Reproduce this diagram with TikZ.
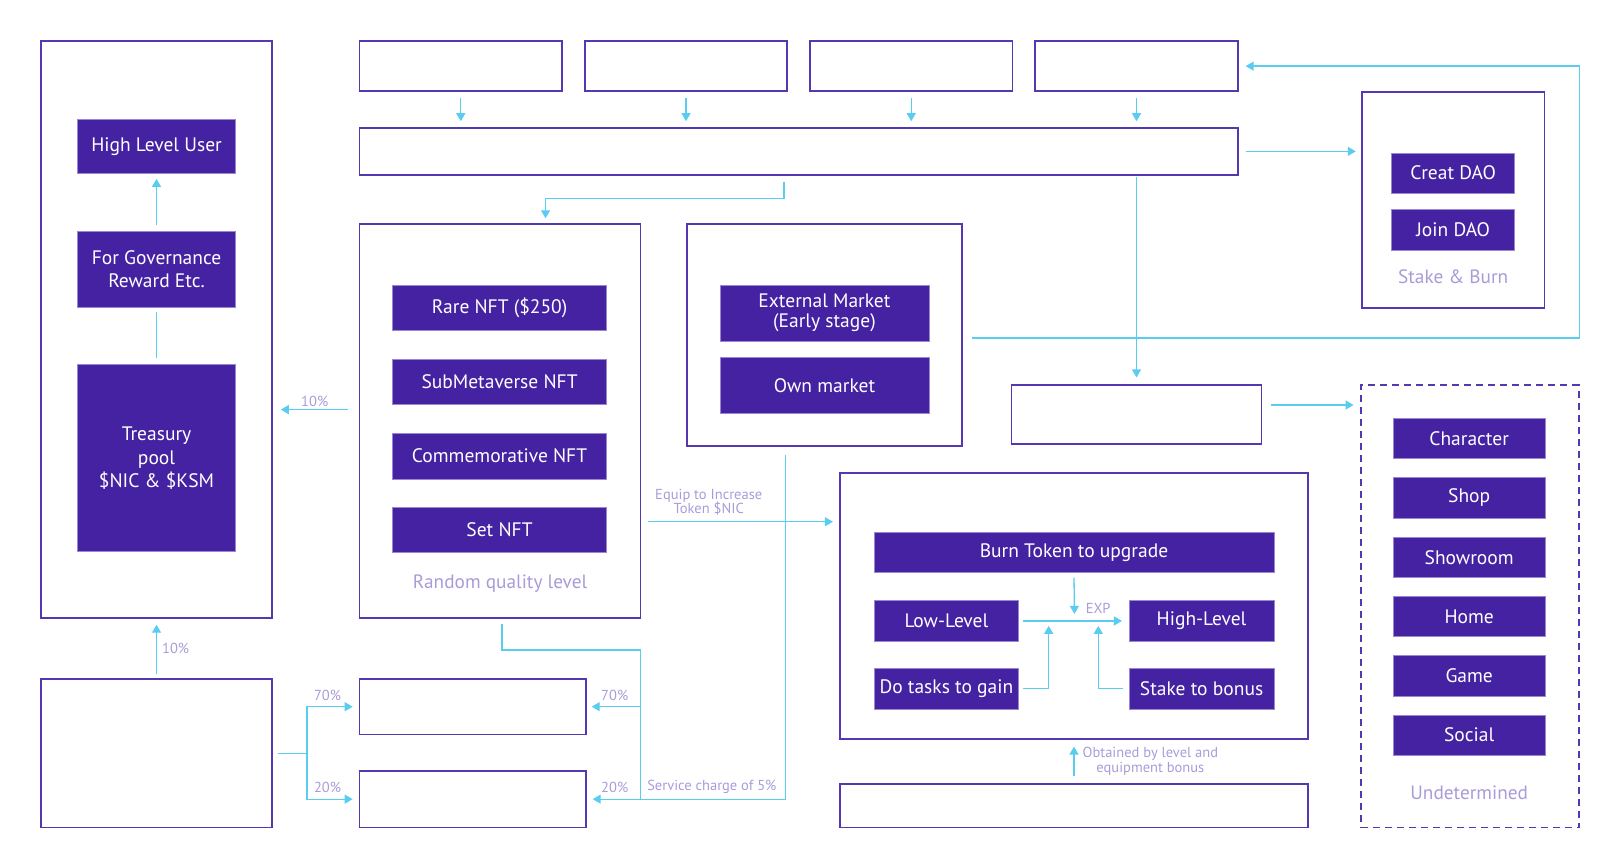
\documentclass[tikz,border=0pt]{standalone}
\usepackage{fontspec}
\setmainfont{PT Sans}
\usepackage{tikz}
\usetikzlibrary{arrows.meta}
\definecolor{boxline}{HTML}{5537B0}
\definecolor{boxfill}{HTML}{4522A2}
\definecolor{flowline}{HTML}{58CDF0}
\definecolor{notetext}{HTML}{A99BD9}

\begin{document}
\begin{tikzpicture}[x=1.0332pt, y=-1.0332pt,
    wh/.style 2 args={minimum width={1.0332*#1pt}, minimum height={1.0332*#2pt}},
    frame/.style={draw=boxline, line width=1.8pt, inner sep=0pt},
    item/.style={fill=boxfill, draw=boxline!60, line width=0.6pt, text=white, inner sep=0pt,
        align=center, font=\fontsize{19.5}{23.5}\selectfont},
    note/.style={text=notetext, inner sep=1pt, align=center, font=\fontsize{14.5}{14.5}\selectfont},
    caption/.style={text=notetext, inner sep=0pt, font=\fontsize{19.3}{21}\selectfont},
    link/.style={draw=flowline, line width=1.3pt},
    flow/.style={link, -{Triangle[length=8pt, width=9pt]}}]
                \useasboundingbox (0,0) rectangle (1568,833.3);

                \node[frame, wh={223}{558}](govframe) at (151.5,319){};
                \node[item, wh={153}{53}](highuser) at (151.5,141.5){High Level User};
                \node[item, wh={153}{73}](govern) at (151.5,260.5){For Governance\\Reward Etc.};
                \node[item, wh={153}{181}](treasury) at (151.5,443.5){Treasury\\pool\\\$NIC \& \$KSM};
                \draw[flow, shorten <=6pt, shorten >=5pt] (govern) -- (highuser);
                \draw[link, shorten <=6pt, shorten >=5pt] (treasury) -- (govern);

                \node[frame, wh={850}{45}](wide) at (773,146.5){};
                \foreach \i/\x in {1/446,2/664,3/882,4/1100} {
                    \node[frame, wh={196}{48}](src\i) at (\x,64){};
                    \draw[flow, shorten <=6pt, shorten >=6pt] (src\i.south) -- (src\i.south |- wide.north);
                }

                \node[frame, wh={272}{381}](nftframe) at (484,407.5){};
                \foreach \t/\y [count=\k] in {Rare NFT (\$250)/298,SubMetaverse NFT/369.5,Commemorative NFT/441.5,Set NFT/513}
                    \node[item, wh={207}{44}](nft\k) at (483.5,\y){\t};
                \node[caption](random) at (484,565){Random quality level};

                \node[frame, wh={266}{215}](mktframe) at (798,324.5){};
                \node[item, wh={202}{54}, font=\fontsize{19.5}{20}\selectfont](extmarket) at (798,303){External Market\\(Early stage)};
                \node[item, wh={202}{54}](ownmarket) at (798,373){Own market};

                \node[frame, wh={177}{209}](daoframe) at (1406.5,193.5){};
                \node[item, wh={119}{39}](creatdao) at (1406.5,167.5){Creat DAO};
                \node[item, wh={119}{39}](joindao) at (1406.5,222.5){Join DAO};
                \node[caption](stakeburn) at (1406.5,268){Stake \& Burn};

                \node[frame, wh={242}{57}](midbox) at (1100,401.5){};
                \node[frame, dash pattern=on 7pt off 5pt, wh={211}{428}](modframe) at (1422.5,587){};
                \foreach \t [count=\k] in {Character,Shop,Showroom,Home,Game,Social}
                    \node[item, wh={147}{39}](mod\k) at (1422,{424.5+57.4*(\k-1)}){\t};
                \node[caption](undet) at (1422,767){Undetermined};

                \node[frame, wh={453}{257}](upframe) at (1039.5,586.5){};
                \node[item, wh={387}{39}](burn) at (1039.5,534.5){Burn Token to upgrade};
                \node[item, wh={140}{40}](low) at (916,601){Low-Level};
                \node[item, wh={140}{40}](high) at (1163,601){High-Level};
                \node[item, wh={140}{40}](tasks) at (916,666.5){Do tasks to gain};
                \node[item, wh={140}{40}](stakeb) at (1163,666.5){Stake to bonus};
                \node[frame, wh={453}{42}](rewardbox) at (1039.5,780){};

                \node[frame, wh={223}{144}](incomebox) at (151.5,729){};
                \node[frame, wh={219}{54}](share70) at (457.5,684){};
                \node[frame, wh={219}{55}](share20) at (457.5,773.5){};

                \coordinate (fork) at (297,729);
                \coordinate (split) at (620,629);
                \coordinate (expmid) at (1040,600);
                \coordinate (expl) at (1015,600);
                \coordinate (expr) at (1063,600);

                \draw[flow, shorten <=6pt, shorten >=5pt] ([xshift=-14.5pt]wide.south) -- ++(0,22) -| ([xshift=45.5pt]nftframe.north);
                \draw[flow, shorten <=11pt, shorten >=10pt] ([yshift=11.4pt]nftframe.west) -- ++(-85,0) node[note, midway, above=1pt]{10\%};
                \draw[flow, shorten <=9pt, shorten >=7pt] ([yshift=-2.6pt]mktframe.east) -- ++(597,0) |- (src4.east);
                \draw[flow, shorten <=7pt, shorten >=5pt] (wide.east) -- (wide.east -| daoframe.west);
                \draw[flow, shorten <=1pt, shorten >=7pt] (midbox.north |- wide.south) -- (midbox.north);
                \draw[flow, shorten <=9pt, shorten >=8pt] ([yshift=9.8pt]midbox.east) -- ++(96,0);

                \draw[flow, shorten <=7pt, shorten >=8pt] ([yshift=-100.7pt]nftframe.east) -- ++(193,0);
                \node[note](equip) at (686,486){Equip to Increase\\Token \$NIC};
                \draw[flow, shorten <=8pt, shorten >=6pt] ([xshift=-39.3pt]mktframe.south) |- (share20.east);
                \node[note](service) at (689,762){Service charge of 5\%};
                \draw[link, shorten <=5pt] ([xshift=2pt]nftframe.south) |- (split) -- (split |- share20.east);
                \draw[flow, shorten >=5pt] (split |- share70.east) -- (share70.east);
                \node[note] at (595,673){70\%};
                \node[note] at (595,762){20\%};

                \draw[link, shorten <=5pt] (incomebox.east) -- (fork);
                \draw[flow, shorten >=6pt] (fork) |- (share70.west);
                \draw[flow, shorten >=6pt] (fork) |- (share20.west);
                \node[note] at (317,673){70\%};
                \node[note] at (317,762){20\%};
                \draw[flow, shorten <=4pt, shorten >=6pt] (incomebox) -- (govframe) node[note, midway, right=4pt]{10\%};

                \draw[flow, shorten <=5pt, shorten >=6pt] (burn.south) -- (expmid);
                \draw[flow, shorten <=4pt, shorten >=7pt] (low) -- (high) node[note, pos=0.72, above=6pt]{EXP};
                \draw[flow, shorten <=4pt, shorten >=6pt] (tasks.east) -| (expl);
                \draw[flow, shorten <=6pt, shorten >=6pt] (stakeb.west) -| (expr);
                \draw[flow, shorten <=7pt, shorten >=7pt] (rewardbox) -- (upframe) node[note, midway, right=7pt]{Obtained by level and\\equipment bonus};
                \end{tikzpicture}
\end{document}
